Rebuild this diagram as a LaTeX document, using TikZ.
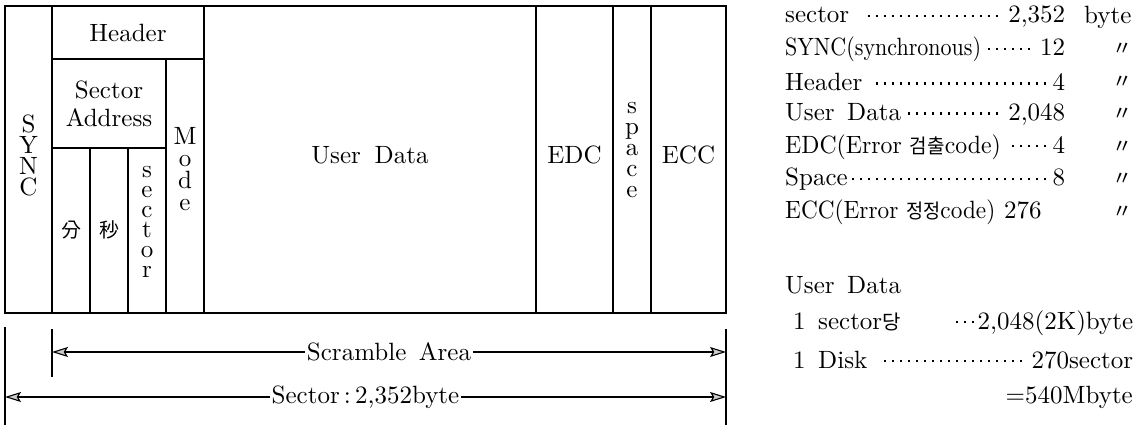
\documentclass[tikz,border=0pt]{standalone}
\usepackage{fontspec}
\usepackage{graphicx}
\setmainfont{lmroman10-regular}[Extension=.otf]
\newfontfamily\kr[Scale=0.8]{Noto Sans CJK KR}
\usetikzlibrary{arrows.meta}
\newcommand\dotlead{\leaders\hbox to 8pt{\hss\rule[6pt]{2.2pt}{2.2pt}\hss}\hfill}
\newcommand\threedots{\hbox to 25pt{\dotlead}}
\begin{document}
\begin{tikzpicture}[x=1pt,y=-1pt,
  box/.style={line width=1.2pt},
  tick/.style={line width=1.2pt},
  lab/.style={font=\fontsize{25}{30}\selectfont, inner sep=0pt},
  vlab/.style={font=\fontsize{25}{#1}\selectfont, align=center, inner sep=0pt},
  row/.style={font=\fontsize{25}{30}\selectfont, anchor=west, inner sep=0pt},
  ditto/.style={font=\fontsize{25}{30}\selectfont\kr, inner sep=0pt},
  dim/.style={line width=1.1pt, {Stealth[length=16pt,width=10pt,inset=3pt,fill=gray!40]}-{Stealth[length=16pt,width=10pt,inset=3pt,fill=gray!40]}},
  dimlab/.style={fill=white, inner xsep=2pt, inner ysep=1pt, font=\fontsize{25}{30}\selectfont}]
\useasboundingbox (0,0) rectangle (1137,425);

% frame and cells
\draw[box] (5,6) rectangle (726,313);
\draw[box] (52,6) -- (52,313);
\draw[box] (52,59) -- (204,59);
\draw[box] (204,6) -- (204,313);
\draw[box] (166,59) -- (166,313);
\draw[box] (52,148) -- (166,148);
\draw[box] (90,148) -- (90,313);
\draw[box] (128,148) -- (128,313);
\draw[box] (536,6) -- (536,313);
\draw[box] (613,6) -- (613,313);
\draw[box] (651,6) -- (651,313);

% cell labels
\node[vlab=21] (sync) at (28.5,155) {S\\Y\\N\\C};
\node[lab] (header) at (128,33) {Header};
\node[vlab=28] (secaddr) at (109,104) {Sector\\Address};
\node[vlab=22] (mode) at (185,169) {M\\o\\d\\e};
\node[lab,font=\fontsize{25}{30}\selectfont\kr] (min) at (71,230) {分};
\node[lab,font=\fontsize{25}{30}\selectfont\kr] (sec) at (109,230) {秒};
\node[vlab=20] (sector) at (147,222) {s\\e\\c\\t\\o\\r};
\node[lab] (user) at (370,155) {User\hspace{0.55em}Data};
\node[lab] (edc) at (574.5,155) {EDC};
\node[vlab=21] (space) at (632,150) {s\\p\\a\\c\\e};
\node[lab] (ecc) at (688.5,155) {ECC};

% dimension lines
\coordinate (tL0) at (5,327);  \coordinate (tL1) at (5,425);
\coordinate (tS0) at (52,329); \coordinate (tS1) at (52,377);
\coordinate (tR0) at (726,329); \coordinate (tR1) at (726,425);
\draw[tick] (tL0) -- (tL1);
\draw[tick] (tS0) -- (tS1);
\draw[tick] (tR0) -- (tR1);
\coordinate (sa1) at (52,352); \coordinate (sa2) at (726,352);
\coordinate (sb1) at (5,397);  \coordinate (sb2) at (726,397);
\draw[dim] (sa1) -- node[dimlab] (scr) {Scramble\hspace{0.5em}Area} (sa2);
\draw[dim] (sb1) -- node[dimlab] (sct) {Sector\,:\,2,352byte} (sb2);

% right list
\node[row] (r1) at (785,17) {\hbox to 280pt{sector \dotlead2,352}};
\node[row] (r1b) at (1084,17) {byte};
\node[row] (r2) at (785,49.5) {\hbox to 280pt{\scalebox{0.88}[1]{SYNC(synchronous)}\dotlead12}};
\node[row] (r3) at (785,82) {\hbox to 280pt{Header \dotlead4}};
\node[row] (r4) at (785,114.5) {\hbox to 280pt{User\hspace{0.5em}Data\,\dotlead2,048}};
\node[row] (r5) at (785,147) {\hbox to 280pt{\scalebox{0.95}[1]{EDC(Error {\kr 검출}code)} \dotlead4}};
\node[row] (r6) at (785,179.5) {\hbox to 280pt{Space\dotlead8}};
\node[row] (r7) at (785,212) {\scalebox{0.93}[1]{ECC(Error {\kr 정정}code)}\hspace{0.35em}276};
\foreach \yy/\nn in {49.5/d2,82/d3,114.5/d4,147/d5,179.5/d6,212/d7}
  \node[ditto] (\nn) at (1122,\yy) {〃};

\node[row] (u0) at (785,285) {User\hspace{0.5em}Data};
\node[row] (u1) at (793,323) {\hbox to 340pt{1\enspace sector{\kr 당}\hfill\threedots2,048(2K)byte}};
\node[row] (u2) at (793,360) {\hbox to 340pt{1\enspace Disk \dotlead270sector}};
\node[row,anchor=east] (u3) at (1133,397) {=540Mbyte};
\end{tikzpicture}
\end{document}
